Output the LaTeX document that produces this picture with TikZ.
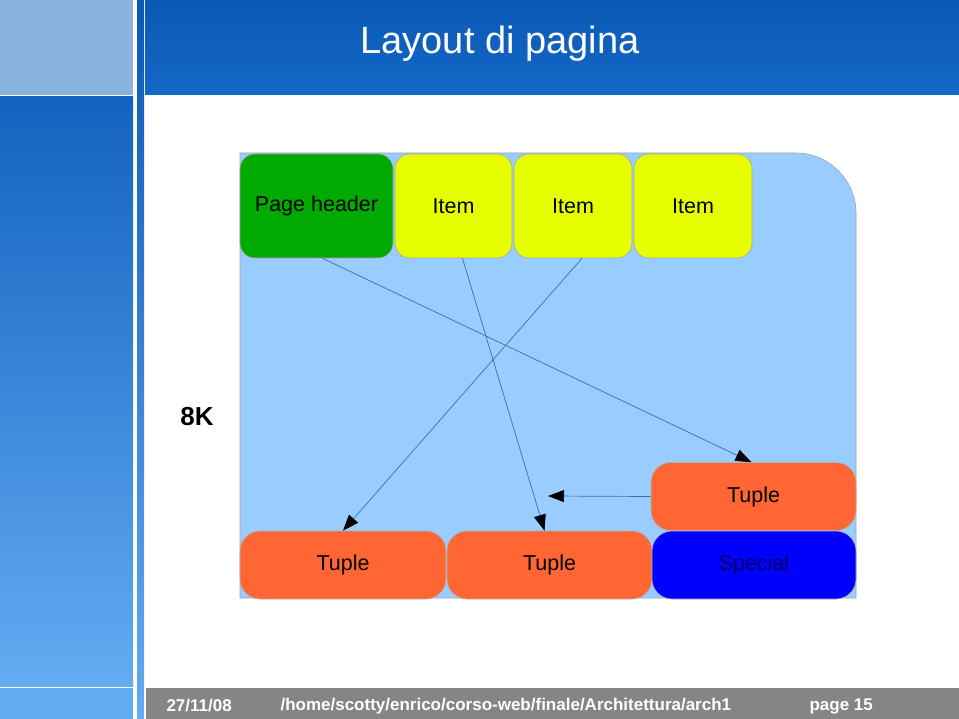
\documentclass[tikz,border=0pt]{standalone}
\usepackage{fontspec}
\setmainfont{Liberation Sans}
\usepackage{xcolor}
\usetikzlibrary{arrows.meta,positioning}
\definecolor{titleblue}{HTML}{0B59B6}
\definecolor{titleblueb}{HTML}{1468C6}
\definecolor{bandlight}{HTML}{8AB2DE}
\definecolor{bandtop}{HTML}{1462C0}
\definecolor{bandbot}{HTML}{63ABF2}
\definecolor{footgray}{HTML}{858585}
\definecolor{pagearea}{HTML}{99CCFF}
\definecolor{hdrgreen}{HTML}{00AA00}
\definecolor{itemyellow}{HTML}{E6FF00}
\definecolor{tupleorange}{HTML}{FF6633}
\definecolor{specialblue}{HTML}{0000FF}
\definecolor{specialtext}{HTML}{00005C}
\definecolor{linkblue}{HTML}{3D6EA5}

\begin{document}
\begin{tikzpicture}[
    x=1pt, y=-1pt,
    font=\fontsize{21.5}{25}\selectfont,
    slot/.style={draw=black!35, line width=0.6pt, rounded corners=15pt, align=center, inner sep=0pt, minimum height=104pt},
    tuple/.style={draw=black!30, line width=0.6pt, rounded corners=20pt, fill=tupleorange, align=center, inner sep=0pt, minimum height=68pt},
    link/.style={draw=linkblue, line width=0.7pt, -{Triangle[length=16pt,width=12pt,black]}},
    foot/.style={anchor=west, text=white, font=\fontsize{17}{20}\selectfont\bfseries}
]
\useasboundingbox (0,0) rectangle (959,719);
\fill[white] (0,0) rectangle (959,719);
\fill[bandlight] (0,0) rectangle (133,95);
\shade[top color=bandtop, bottom color=bandbot] (0,97) rectangle (133,686);
\fill[bandbot] (0,688) rectangle (133,719);
\shade[top color=titleblue, bottom color=bandbot] (137,0) rectangle (144,719);
\shade[top color=titleblue, bottom color=titleblueb] (145,0) rectangle (959,95);
\fill[footgray] (146,688) rectangle (959,719);

\node[text=white, font=\fontsize{38}{44}\selectfont] (title) at (500,44) {Layout di pagina};

\draw[draw=black!35, line width=0.6pt, fill=pagearea] (240,598) -- (240,153) -- (796,153)
    .. controls (829,153) and (856,180) .. (856,213) -- (856,598) -- cycle;

\node[slot, fill=hdrgreen, minimum width=153pt] (hdr) at (316.5,206) {Page header};
\node[slot, fill=itemyellow, minimum width=117pt] (item1) at (453.5,206) {Item};
\node[slot, fill=itemyellow, minimum width=118pt] (item2) at (573,206) {Item};
\node[slot, fill=itemyellow, minimum width=118pt] (item3) at (693,206) {Item};

\node[font=\fontsize{26}{30}\selectfont\bfseries] (size) at (197,417) {8K};

\node[tuple, minimum width=205pt] (tupC) at (753.5,496.5) {Tuple};
\node[tuple, minimum width=206pt] (tupA) at (343,565) {Tuple};
\node[tuple, minimum width=205pt] (tupB) at (549.5,565) {Tuple};
\node[tuple, fill=specialblue, text=specialtext, minimum width=204pt] (spec) at (754,565) {Special};
\coordinate (free) at (548,496);

\draw[link] ([xshift=6pt]hdr.south) -- ([xshift=-2pt]tupC.north);
\draw[link] ([xshift=9pt]item1.south) -- ([xshift=-5pt]tupB.north);
\draw[link] ([xshift=9pt]item2.south) -- (tupA.north);
\draw[link] (tupC.west) -- (free);

\node[foot] (date) at (163,706) {27/11/08};
\node[foot] (path) at (277,706) {/home/scotty/enrico/corso-web/finale/Architettura/arch1};
\node[foot] (pagenum) at (806,706) {page 15};
\end{tikzpicture}
\end{document}
